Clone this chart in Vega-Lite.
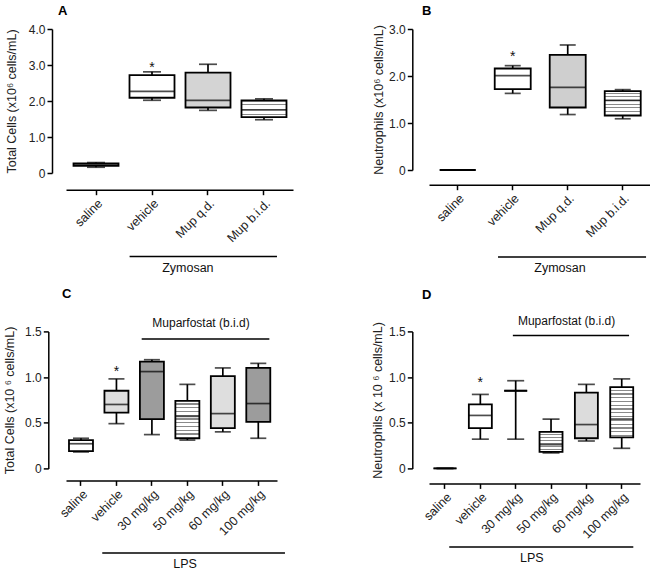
{
"$schema": "https://vega.github.io/schema/vega-lite/v6.json",
"padding": {"left": 3, "top": 4, "right": 0, "bottom": 0},
"config": {
  "font": "Liberation Sans",
  "view": {"stroke": null},
  "axis": {"grid": false, "domainColor": "#000", "domainWidth": 1.5, "tickColor": "#000", "tickWidth": 1.5, "tickSize": 5, "labelColor": "#222", "labelFont": "Liberation Sans", "labelFontSize": 12, "labelPadding": 2, "labelOverlap": false, "titleFont": "Liberation Sans", "titleFontSize": 12.5, "titleFontWeight": "normal", "titleColor": "#222"},
  "axisX": {"labelFontSize": 12.5},
  "title": {"font": "Liberation Sans", "fontSize": 13, "fontWeight": "bold", "color": "#000", "anchor": "start", "frame": "group", "baseline": "alphabetic"},
  "text": {"font": "Liberation Sans", "color": "#111"}
},
"datasets": {
  "A": [
    {"group": "saline", "min": 0.16, "q1": 0.2, "median": 0.23, "q3": 0.27, "max": 0.29},
    {"group": "vehicle", "min": 2.02, "q1": 2.09, "median": 2.27, "q3": 2.72, "max": 2.81, "star": 3.04},
    {"group": "Mup q.d.", "min": 1.74, "q1": 1.82, "median": 2.02, "q3": 2.79, "max": 3.02},
    {"group": "Mup b.i.d.", "min": 1.48, "q1": 1.55, "median": 1.75, "q3": 2.02, "max": 2.06}
  ],
  "B": [
    {"group": "saline", "min": 0, "q1": 0, "median": 0, "q3": 0, "max": 0},
    {"group": "vehicle", "min": 1.63, "q1": 1.72, "median": 2.01, "q3": 2.16, "max": 2.22, "star": 2.49},
    {"group": "Mup q.d.", "min": 1.18, "q1": 1.33, "median": 1.76, "q3": 2.45, "max": 2.66},
    {"group": "Mup b.i.d.", "min": 1.09, "q1": 1.16, "median": 1.48, "q3": 1.68, "max": 1.71}
  ],
  "C": [
    {"group": "saline", "min": 0.18, "q1": 0.19, "median": 0.27, "q3": 0.31, "max": 0.33},
    {"group": "vehicle", "min": 0.49, "q1": 0.61, "median": 0.7, "q3": 0.85, "max": 0.98, "star": 1.1},
    {"group": "30 mg/kg", "min": 0.37, "q1": 0.54, "median": 1.06, "q3": 1.17, "max": 1.19},
    {"group": "50 mg/kg", "min": 0.31, "q1": 0.33, "median": 0.57, "q3": 0.74, "max": 0.92},
    {"group": "60 mg/kg", "min": 0.4, "q1": 0.44, "median": 0.6, "q3": 1.01, "max": 1.1},
    {"group": "100 mg/kg", "min": 0.33, "q1": 0.51, "median": 0.71, "q3": 1.1, "max": 1.15}
  ],
  "D": [
    {"group": "saline", "min": 0, "q1": 0, "median": 0, "q3": 0, "max": 0},
    {"group": "vehicle", "min": 0.32, "q1": 0.44, "median": 0.58, "q3": 0.7, "max": 0.81, "star": 0.98},
    {"group": "30 mg/kg", "min": 0.32, "q1": 0.85, "median": 0.85, "q3": 0.85, "max": 0.96},
    {"group": "50 mg/kg", "min": 0.17, "q1": 0.18, "median": 0.26, "q3": 0.4, "max": 0.54},
    {"group": "60 mg/kg", "min": 0.3, "q1": 0.33, "median": 0.48, "q3": 0.83, "max": 0.92},
    {"group": "100 mg/kg", "min": 0.22, "q1": 0.34, "median": 0.54, "q3": 0.89, "max": 0.98}
  ]
},
"columns": 2,
"bounds": "flush",
"spacing": {"row": 158.4, "column": 136},
"concat": [
{
  "width": 227, "height": 144,
  "title": {"text": "A", "dx": -8, "offset": 5.5},
  "data": {"name": "A"},
  "encoding": {"x": {"field": "group", "type": "nominal", "scale": {"domain": ["saline", "vehicle", "Mup q.d.", "Mup b.i.d."], "paddingInner": 0.2, "paddingOuter": 0.127, "align": 0.535}, "axis": {"title": null, "labelAngle": -45, "offset": 16.7}}},
  "layer": [
    {"mark": {"type": "rule", "strokeWidth": 1.7, "color": "#000"}, "encoding": {"y": {"field": "min", "type": "quantitative", "scale": {"domain": [0, 4], "nice": false}, "axis": {"title": "Total Cells (x10⁶ cells/mL)", "tickCount": 4, "labelOverlap": false, "labelBound": false, "labelExpr": "datum.value == 0 ? '0' : format(datum.value, '.1f')", "offset": 14, "titlePadding": 10}}, "y2": {"field": "max"}}},
    {"mark": {"type": "tick", "size": 18, "thickness": 1.7, "color": "#000"}, "encoding": {"y": {"field": "min", "type": "quantitative"}}},
    {"mark": {"type": "tick", "size": 18, "thickness": 1.7, "color": "#000"}, "encoding": {"y": {"field": "max", "type": "quantitative"}}},
    {"mark": {"type": "bar", "size": 45, "stroke": "#000", "strokeWidth": 1.8}, "encoding": {"y": {"field": "q1", "type": "quantitative"}, "y2": {"field": "q3"},
      "fill": {"condition": [
        {"test": "datum.group === 'Mup q.d.'", "value": "#d4d4d4"},
        {"test": "datum.group === 'Mup b.i.d.'", "value": {"gradient": "linear", "x1": 0, "y1": 0, "x2": 0, "y2": 1, "stops": [{"offset": 0, "color": "#ffffff"}, {"offset": 0.07, "color": "#ffffff"}, {"offset": 0.07, "color": "#8a8a8a"}, {"offset": 0.11, "color": "#8a8a8a"}, {"offset": 0.11, "color": "#ffffff"}, {"offset": 0.22, "color": "#ffffff"}, {"offset": 0.22, "color": "#8a8a8a"}, {"offset": 0.26, "color": "#8a8a8a"}, {"offset": 0.26, "color": "#ffffff"}, {"offset": 0.37, "color": "#ffffff"}, {"offset": 0.37, "color": "#8a8a8a"}, {"offset": 0.41, "color": "#8a8a8a"}, {"offset": 0.41, "color": "#ffffff"}, {"offset": 0.52, "color": "#ffffff"}, {"offset": 0.52, "color": "#8a8a8a"}, {"offset": 0.56, "color": "#8a8a8a"}, {"offset": 0.56, "color": "#ffffff"}, {"offset": 0.67, "color": "#ffffff"}, {"offset": 0.67, "color": "#8a8a8a"}, {"offset": 0.71, "color": "#8a8a8a"}, {"offset": 0.71, "color": "#ffffff"}, {"offset": 0.82, "color": "#ffffff"}, {"offset": 0.82, "color": "#8a8a8a"}, {"offset": 0.86, "color": "#8a8a8a"}, {"offset": 0.86, "color": "#ffffff"}, {"offset": 1, "color": "#ffffff"}]}}
      ], "value": "#ffffff"}}},
    {"mark": {"type": "tick", "size": 45, "thickness": 1.7, "color": "#000"}, "encoding": {"y": {"field": "median", "type": "quantitative"}}},
    {"transform": [{"filter": "datum.star != null"}], "mark": {"type": "text", "text": "*", "fontSize": 14, "baseline": "middle", "dy": 4}, "encoding": {"y": {"field": "star", "type": "quantitative"}}},
    {"data": {"values": [{"label": "Zymosan"}]}, "mark": {"type": "rule", "strokeWidth": 1.5, "color": "#000"}, "encoding": {"x": {"datum": "vehicle", "type": "nominal", "bandPosition": 0}, "x2": {"datum": "Mup b.i.d.", "bandPosition": 0.79}, "y": {"datum": -2.32, "type": "quantitative"}}},
    {"data": {"values": [{"label": "Zymosan"}]}, "mark": {"type": "text", "fontSize": 12.5, "baseline": "middle", "align": "center"}, "encoding": {"text": {"field": "label"}, "x": {"datum": "Mup q.d.", "type": "nominal", "bandPosition": 0.05}, "y": {"datum": -2.65, "type": "quantitative"}}}
  ]
},
{
  "width": 221, "height": 141,
  "title": {"text": "B", "dx": -7, "offset": 5.5},
  "data": {"name": "B"},
  "encoding": {"x": {"field": "group", "type": "nominal", "scale": {"domain": ["saline", "vehicle", "Mup q.d.", "Mup b.i.d."], "paddingInner": 0.2, "paddingOuter": 0.109, "align": 0.56}, "axis": {"title": null, "labelAngle": -45, "offset": 14.7}}},
  "layer": [
    {"mark": {"type": "rule", "strokeWidth": 1.7, "color": "#000"}, "encoding": {"y": {"field": "min", "type": "quantitative", "scale": {"domain": [0, 3], "nice": false}, "axis": {"title": "Neutrophils (x10⁶ cells/mL)", "values": [0, 1, 2, 3], "labelOverlap": false, "labelExpr": "datum.value == 0 ? '0' : format(datum.value, '.1f')", "offset": 16.7, "titlePadding": 3}}, "y2": {"field": "max"}}},
    {"mark": {"type": "tick", "size": 16, "thickness": 1.7, "color": "#000"}, "encoding": {"y": {"field": "min", "type": "quantitative"}}},
    {"mark": {"type": "tick", "size": 16, "thickness": 1.7, "color": "#000"}, "encoding": {"y": {"field": "max", "type": "quantitative"}}},
    {"mark": {"type": "bar", "size": 36, "stroke": "#000", "strokeWidth": 1.8}, "encoding": {"y": {"field": "q1", "type": "quantitative"}, "y2": {"field": "q3"},
      "fill": {"condition": [
        {"test": "datum.group === 'Mup q.d.'", "value": "#cfcfcf"},
        {"test": "datum.group === 'Mup b.i.d.'", "value": {"gradient": "linear", "x1": 0, "y1": 0, "x2": 0, "y2": 1, "stops": [{"offset": 0, "color": "#ffffff"}, {"offset": 0.07, "color": "#ffffff"}, {"offset": 0.07, "color": "#8a8a8a"}, {"offset": 0.11, "color": "#8a8a8a"}, {"offset": 0.11, "color": "#ffffff"}, {"offset": 0.22, "color": "#ffffff"}, {"offset": 0.22, "color": "#8a8a8a"}, {"offset": 0.26, "color": "#8a8a8a"}, {"offset": 0.26, "color": "#ffffff"}, {"offset": 0.37, "color": "#ffffff"}, {"offset": 0.37, "color": "#8a8a8a"}, {"offset": 0.41, "color": "#8a8a8a"}, {"offset": 0.41, "color": "#ffffff"}, {"offset": 0.52, "color": "#ffffff"}, {"offset": 0.52, "color": "#8a8a8a"}, {"offset": 0.56, "color": "#8a8a8a"}, {"offset": 0.56, "color": "#ffffff"}, {"offset": 0.67, "color": "#ffffff"}, {"offset": 0.67, "color": "#8a8a8a"}, {"offset": 0.71, "color": "#8a8a8a"}, {"offset": 0.71, "color": "#ffffff"}, {"offset": 0.82, "color": "#ffffff"}, {"offset": 0.82, "color": "#8a8a8a"}, {"offset": 0.86, "color": "#8a8a8a"}, {"offset": 0.86, "color": "#ffffff"}, {"offset": 1, "color": "#ffffff"}]}}
      ], "value": "#ffffff"}}},
    {"mark": {"type": "tick", "size": 36, "thickness": 1.7, "color": "#000"}, "encoding": {"y": {"field": "median", "type": "quantitative"}}},
    {"transform": [{"filter": "datum.star != null"}], "mark": {"type": "text", "text": "*", "fontSize": 14, "baseline": "middle", "dy": 4}, "encoding": {"y": {"field": "star", "type": "quantitative"}}},
    {"data": {"values": [{"label": "Zymosan"}]}, "mark": {"type": "rule", "strokeWidth": 1.5, "color": "#000"}, "encoding": {"x": {"datum": "vehicle", "type": "nominal", "bandPosition": 0.166}, "x2": {"datum": "Mup b.i.d.", "bandPosition": 1.03}, "y": {"datum": -1.853, "type": "quantitative"}}},
    {"data": {"values": [{"label": "Zymosan"}]}, "mark": {"type": "text", "fontSize": 12.5, "baseline": "middle", "align": "center"}, "encoding": {"text": {"field": "label"}, "x": {"datum": "Mup q.d.", "type": "nominal", "bandPosition": 0.325}, "y": {"datum": -2.094, "type": "quantitative"}}}
  ]
},
{
  "width": 211, "height": 137,
  "title": {"text": "C", "dx": -4, "offset": 16},
  "data": {"name": "C"},
  "encoding": {"x": {"field": "group", "type": "nominal", "scale": {"domain": ["saline", "vehicle", "30 mg/kg", "50 mg/kg", "60 mg/kg", "100 mg/kg"], "paddingInner": 0.2, "paddingOuter": 0.075, "align": 0.15}, "axis": {"title": null, "labelAngle": -45, "offset": 12}}},
  "layer": [
    {"mark": {"type": "rule", "strokeWidth": 1.7, "color": "#000"}, "encoding": {"y": {"field": "min", "type": "quantitative", "scale": {"domain": [0, 1.5], "nice": false}, "axis": {"title": "Total Cells (x10 ⁶ cells/mL)", "values": [0, 0.5, 1, 1.5], "labelOverlap": false, "labelExpr": "datum.value == 0 ? '0' : format(datum.value, '.1f')", "offset": 17.7, "titlePadding": 8}}, "y2": {"field": "max"}}},
    {"mark": {"type": "tick", "size": 16, "thickness": 1.7, "color": "#000"}, "encoding": {"y": {"field": "min", "type": "quantitative"}}},
    {"mark": {"type": "tick", "size": 16, "thickness": 1.7, "color": "#000"}, "encoding": {"y": {"field": "max", "type": "quantitative"}}},
    {"mark": {"type": "bar", "size": 24, "stroke": "#000", "strokeWidth": 1.8}, "encoding": {"y": {"field": "q1", "type": "quantitative"}, "y2": {"field": "q3"},
      "fill": {"condition": [
        {"test": "datum.group === 'vehicle' || datum.group === '60 mg/kg'", "value": "#dedede"},
        {"test": "datum.group === '30 mg/kg' || datum.group === '100 mg/kg'", "value": "#9c9c9c"},
        {"test": "datum.group === '50 mg/kg'", "value": {"gradient": "linear", "x1": 0, "y1": 0, "x2": 0, "y2": 1, "stops": [{"offset": 0, "color": "#ffffff"}, {"offset": 0.07, "color": "#ffffff"}, {"offset": 0.07, "color": "#8a8a8a"}, {"offset": 0.1, "color": "#8a8a8a"}, {"offset": 0.1, "color": "#ffffff"}, {"offset": 0.17, "color": "#ffffff"}, {"offset": 0.17, "color": "#8a8a8a"}, {"offset": 0.2, "color": "#8a8a8a"}, {"offset": 0.2, "color": "#ffffff"}, {"offset": 0.27, "color": "#ffffff"}, {"offset": 0.27, "color": "#8a8a8a"}, {"offset": 0.3, "color": "#8a8a8a"}, {"offset": 0.3, "color": "#ffffff"}, {"offset": 0.37, "color": "#ffffff"}, {"offset": 0.37, "color": "#8a8a8a"}, {"offset": 0.4, "color": "#8a8a8a"}, {"offset": 0.4, "color": "#ffffff"}, {"offset": 0.47, "color": "#ffffff"}, {"offset": 0.47, "color": "#8a8a8a"}, {"offset": 0.5, "color": "#8a8a8a"}, {"offset": 0.5, "color": "#ffffff"}, {"offset": 0.57, "color": "#ffffff"}, {"offset": 0.57, "color": "#8a8a8a"}, {"offset": 0.6, "color": "#8a8a8a"}, {"offset": 0.6, "color": "#ffffff"}, {"offset": 0.67, "color": "#ffffff"}, {"offset": 0.67, "color": "#8a8a8a"}, {"offset": 0.7, "color": "#8a8a8a"}, {"offset": 0.7, "color": "#ffffff"}, {"offset": 0.77, "color": "#ffffff"}, {"offset": 0.77, "color": "#8a8a8a"}, {"offset": 0.8, "color": "#8a8a8a"}, {"offset": 0.8, "color": "#ffffff"}, {"offset": 0.87, "color": "#ffffff"}, {"offset": 0.87, "color": "#8a8a8a"}, {"offset": 0.9, "color": "#8a8a8a"}, {"offset": 0.9, "color": "#ffffff"}, {"offset": 1, "color": "#ffffff"}]}}
      ], "value": "#ffffff"}}},
    {"mark": {"type": "tick", "size": 24, "thickness": 1.7, "color": "#000"}, "encoding": {"y": {"field": "median", "type": "quantitative"}}},
    {"transform": [{"filter": "datum.star != null"}], "mark": {"type": "text", "text": "*", "fontSize": 14, "baseline": "middle", "dy": 4}, "encoding": {"y": {"field": "star", "type": "quantitative"}}},
    {"data": {"values": [{"label": "LPS"}]}, "mark": {"type": "rule", "strokeWidth": 1.5, "color": "#000"}, "encoding": {"x": {"datum": "vehicle", "type": "nominal", "bandPosition": 0}, "x2": {"datum": "100 mg/kg", "bandPosition": 1.44}, "y": {"datum": -0.925, "type": "quantitative"}}},
    {"data": {"values": [{"label": "LPS"}]}, "mark": {"type": "text", "fontSize": 12.5, "baseline": "middle", "align": "center"}, "encoding": {"text": {"field": "label"}, "x": {"datum": "50 mg/kg", "type": "nominal", "bandPosition": 0.42}, "y": {"datum": -1.042, "type": "quantitative"}}},
    {"data": {"values": [{"label": "Muparfostat (b.i.d)"}]}, "mark": {"type": "rule", "strokeWidth": 1.5, "color": "#000"}, "encoding": {"x": {"datum": "30 mg/kg", "type": "nominal", "bandPosition": 0.14}, "x2": {"datum": "100 mg/kg", "bandPosition": 0.89}, "y": {"datum": 1.416, "type": "quantitative"}}},
    {"data": {"values": [{"label": "Muparfostat (b.i.d)"}]}, "mark": {"type": "text", "fontSize": 12, "baseline": "middle", "align": "center"}, "encoding": {"text": {"field": "label"}, "x": {"datum": "50 mg/kg", "type": "nominal", "bandPosition": 0.98}, "y": {"datum": 1.59, "type": "quantitative"}}}
  ]
},
{
  "width": 211, "height": 137,
  "title": {"text": "D", "dx": -7, "offset": 13.5},
  "data": {"name": "D"},
  "encoding": {"x": {"field": "group", "type": "nominal", "scale": {"domain": ["saline", "vehicle", "30 mg/kg", "50 mg/kg", "60 mg/kg", "100 mg/kg"], "paddingInner": 0.2, "paddingOuter": 0.085, "align": 0.31}, "axis": {"title": null, "labelAngle": -45, "offset": 15}}},
  "layer": [
    {"mark": {"type": "rule", "strokeWidth": 1.7, "color": "#000"}, "encoding": {"y": {"field": "min", "type": "quantitative", "scale": {"domain": [0, 1.5], "nice": false}, "axis": {"title": "Neutrophils (x 10 ⁶ cells/mL)", "values": [0, 0.5, 1, 1.5], "labelOverlap": false, "labelExpr": "datum.value == 0 ? '0' : format(datum.value, '.1f')", "offset": 16.7, "titlePadding": 4}}, "y2": {"field": "max"}}},
    {"mark": {"type": "tick", "size": 17, "thickness": 1.7, "color": "#000"}, "encoding": {"y": {"field": "min", "type": "quantitative"}}},
    {"mark": {"type": "tick", "size": 17, "thickness": 1.7, "color": "#000"}, "encoding": {"y": {"field": "max", "type": "quantitative"}}},
    {"mark": {"type": "bar", "size": 23, "stroke": "#000", "strokeWidth": 1.8}, "encoding": {"y": {"field": "q1", "type": "quantitative"}, "y2": {"field": "q3"},
      "fill": {"condition": [
        {"test": "datum.group === '60 mg/kg'", "value": "#dcdcdc"},
        {"test": "datum.group === '50 mg/kg' || datum.group === '100 mg/kg'", "value": {"gradient": "linear", "x1": 0, "y1": 0, "x2": 0, "y2": 1, "stops": [{"offset": 0, "color": "#ffffff"}, {"offset": 0.05, "color": "#ffffff"}, {"offset": 0.05, "color": "#8a8a8a"}, {"offset": 0.075, "color": "#8a8a8a"}, {"offset": 0.075, "color": "#ffffff"}, {"offset": 0.125, "color": "#ffffff"}, {"offset": 0.125, "color": "#8a8a8a"}, {"offset": 0.15, "color": "#8a8a8a"}, {"offset": 0.15, "color": "#ffffff"}, {"offset": 0.2, "color": "#ffffff"}, {"offset": 0.2, "color": "#8a8a8a"}, {"offset": 0.225, "color": "#8a8a8a"}, {"offset": 0.225, "color": "#ffffff"}, {"offset": 0.275, "color": "#ffffff"}, {"offset": 0.275, "color": "#8a8a8a"}, {"offset": 0.3, "color": "#8a8a8a"}, {"offset": 0.3, "color": "#ffffff"}, {"offset": 0.35, "color": "#ffffff"}, {"offset": 0.35, "color": "#8a8a8a"}, {"offset": 0.375, "color": "#8a8a8a"}, {"offset": 0.375, "color": "#ffffff"}, {"offset": 0.425, "color": "#ffffff"}, {"offset": 0.425, "color": "#8a8a8a"}, {"offset": 0.45, "color": "#8a8a8a"}, {"offset": 0.45, "color": "#ffffff"}, {"offset": 0.5, "color": "#ffffff"}, {"offset": 0.5, "color": "#8a8a8a"}, {"offset": 0.525, "color": "#8a8a8a"}, {"offset": 0.525, "color": "#ffffff"}, {"offset": 0.575, "color": "#ffffff"}, {"offset": 0.575, "color": "#8a8a8a"}, {"offset": 0.6, "color": "#8a8a8a"}, {"offset": 0.6, "color": "#ffffff"}, {"offset": 0.65, "color": "#ffffff"}, {"offset": 0.65, "color": "#8a8a8a"}, {"offset": 0.675, "color": "#8a8a8a"}, {"offset": 0.675, "color": "#ffffff"}, {"offset": 0.725, "color": "#ffffff"}, {"offset": 0.725, "color": "#8a8a8a"}, {"offset": 0.75, "color": "#8a8a8a"}, {"offset": 0.75, "color": "#ffffff"}, {"offset": 0.8, "color": "#ffffff"}, {"offset": 0.8, "color": "#8a8a8a"}, {"offset": 0.825, "color": "#8a8a8a"}, {"offset": 0.825, "color": "#ffffff"}, {"offset": 0.875, "color": "#ffffff"}, {"offset": 0.875, "color": "#8a8a8a"}, {"offset": 0.9, "color": "#8a8a8a"}, {"offset": 0.9, "color": "#ffffff"}, {"offset": 0.95, "color": "#ffffff"}, {"offset": 0.95, "color": "#8a8a8a"}, {"offset": 0.975, "color": "#8a8a8a"}, {"offset": 0.975, "color": "#ffffff"}, {"offset": 1, "color": "#ffffff"}]}}
      ], "value": "#ffffff"}}},
    {"mark": {"type": "tick", "size": 23, "thickness": 1.7, "color": "#000"}, "encoding": {"y": {"field": "median", "type": "quantitative"}}},
    {"transform": [{"filter": "datum.star != null"}], "mark": {"type": "text", "text": "*", "fontSize": 14, "baseline": "middle", "dy": 4}, "encoding": {"y": {"field": "star", "type": "quantitative"}}},
    {"data": {"values": [{"label": "LPS"}]}, "mark": {"type": "rule", "strokeWidth": 1.5, "color": "#000"}, "encoding": {"x": {"datum": "saline", "type": "nominal", "bandPosition": 0.65}, "x2": {"datum": "100 mg/kg", "bandPosition": 0.91}, "y": {"datum": -0.861, "type": "quantitative"}}},
    {"data": {"values": [{"label": "LPS"}]}, "mark": {"type": "text", "fontSize": 12.5, "baseline": "middle", "align": "center"}, "encoding": {"text": {"field": "label"}, "x": {"datum": "30 mg/kg", "type": "nominal", "bandPosition": 1.07}, "y": {"datum": -0.982, "type": "quantitative"}}},
    {"data": {"values": [{"label": "Muparfostat  (b.i.d)"}]}, "mark": {"type": "rule", "strokeWidth": 1.5, "color": "#000"}, "encoding": {"x": {"datum": "30 mg/kg", "type": "nominal", "bandPosition": 0.4}, "x2": {"datum": "100 mg/kg", "bandPosition": 0.76}, "y": {"datum": 1.456, "type": "quantitative"}}},
    {"data": {"values": [{"label": "Muparfostat  (b.i.d)"}]}, "mark": {"type": "text", "fontSize": 12, "baseline": "middle", "align": "center"}, "encoding": {"text": {"field": "label"}, "x": {"datum": "50 mg/kg", "type": "nominal", "bandPosition": 1.05}, "y": {"datum": 1.61, "type": "quantitative"}}}
  ]
}
]
}
